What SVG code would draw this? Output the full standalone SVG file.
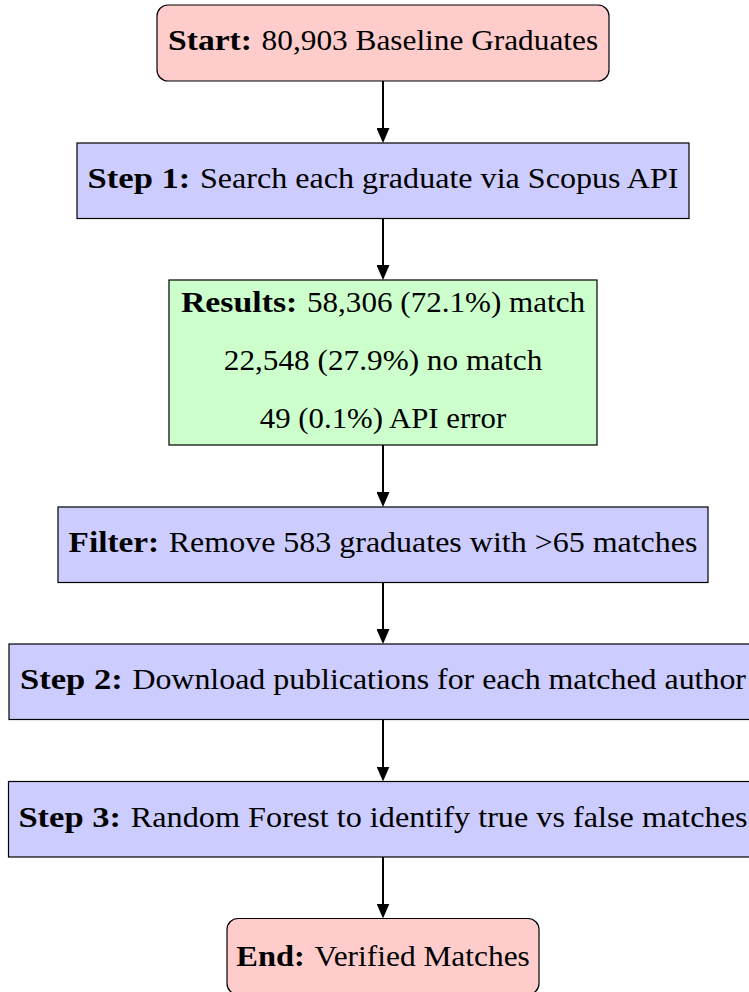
<svg xmlns="http://www.w3.org/2000/svg" width="749" height="992" viewBox="0 0 749 992">
  <defs>
    <style>
      .node rect { stroke: #000; stroke-width: 1.2; }
      .term rect { fill: #FFCCCC; }
      .step rect { fill: #CCCCFF; }
      .result rect { fill: #CCFFCC; }
      text { font-family: "Liberation Serif", "Times New Roman", serif; font-size: 29px; fill: #000; }
      .b { font-weight: bold; }
      #connectors line { stroke: #000; stroke-width: 2; marker-end: url(#head); }
    </style>
    <marker id="head" markerUnits="userSpaceOnUse" viewBox="0 0 15 13" refX="5" refY="6.5" markerWidth="15" markerHeight="13" orient="auto">
      <path d="M0,0 L15,6.5 L0,13 Z" fill="#000"/>
    </marker>
  </defs>

  <rect width="749" height="992" fill="#fff"/>

  <!-- start terminal -->
  <g id="start" class="node term">
    <rect x="157" y="5" width="452" height="76" rx="11" ry="11"/>
    <text y="50.3"><tspan class="b" x="168" textLength="84" lengthAdjust="spacingAndGlyphs">Start:</tspan><tspan x="261.6" textLength="336.5" lengthAdjust="spacingAndGlyphs">80,903 Baseline Graduates</tspan></text>
  </g>

  <!-- step 1: author search -->
  <g id="step1" class="node step">
    <rect x="77" y="143" width="612" height="75.5"/>
    <text y="188"><tspan class="b" x="87.6" textLength="102.7" lengthAdjust="spacingAndGlyphs">Step 1:</tspan><tspan x="200" textLength="478.5" lengthAdjust="spacingAndGlyphs">Search each graduate via Scopus API</tspan></text>
  </g>

  <!-- search results -->
  <g id="results" class="node result">
    <rect x="169" y="280" width="428" height="165"/>
    <text y="311.5"><tspan class="b" x="180.9" textLength="116.4" lengthAdjust="spacingAndGlyphs">Results:</tspan><tspan x="307" textLength="278.1" lengthAdjust="spacingAndGlyphs">58,306 (72.1%) match</tspan></text>
    <text x="223.8" y="369.5" textLength="318.5" lengthAdjust="spacingAndGlyphs">22,548 (27.9%) no match</text>
    <text x="259.8" y="427.5" textLength="246.4" lengthAdjust="spacingAndGlyphs">49 (0.1%) API error</text>
  </g>

  <!-- filter -->
  <g id="filter" class="node step">
    <rect x="58" y="507" width="650" height="75.5"/>
    <text y="552"><tspan class="b" x="68.6" textLength="90.6" lengthAdjust="spacingAndGlyphs">Filter:</tspan><tspan x="168.8" textLength="528.6" lengthAdjust="spacingAndGlyphs">Remove 583 graduates with &gt;65 matches</tspan></text>
  </g>

  <!-- step 2: publications -->
  <g id="step2" class="node step">
    <rect x="9" y="644" width="747" height="75.5"/>
    <text y="689"><tspan class="b" x="20" textLength="102.7" lengthAdjust="spacingAndGlyphs">Step 2:</tspan><tspan x="132.4" textLength="613.6" lengthAdjust="spacingAndGlyphs">Download publications for each matched author</tspan></text>
  </g>

  <!-- step 3: classifier -->
  <g id="step3" class="node step">
    <rect x="8.5" y="781.5" width="750" height="75.5"/>
    <text y="826.5"><tspan class="b" x="18.4" textLength="102.7" lengthAdjust="spacingAndGlyphs">Step 3:</tspan><tspan x="130.8" textLength="616.8" lengthAdjust="spacingAndGlyphs">Random Forest to identify true vs false matches</tspan></text>
  </g>

  <!-- end terminal -->
  <g id="end" class="node term">
    <rect x="227" y="918.5" width="312" height="76" rx="11" ry="11"/>
    <text y="966"><tspan class="b" x="236.3" textLength="68.5" lengthAdjust="spacingAndGlyphs">End:</tspan><tspan x="314.5" textLength="215.3" lengthAdjust="spacingAndGlyphs">Verified Matches</tspan></text>
  </g>

  <!-- connectors -->
  <g id="connectors">
    <line x1="383" y1="81" x2="383" y2="133"/>
    <line x1="383" y1="218.5" x2="383" y2="270"/>
    <line x1="383" y1="445" x2="383" y2="497"/>
    <line x1="383" y1="582.5" x2="383" y2="634"/>
    <line x1="383" y1="719.5" x2="383" y2="771.5"/>
    <line x1="383" y1="857" x2="383" y2="908.5"/>
  </g>
</svg>
